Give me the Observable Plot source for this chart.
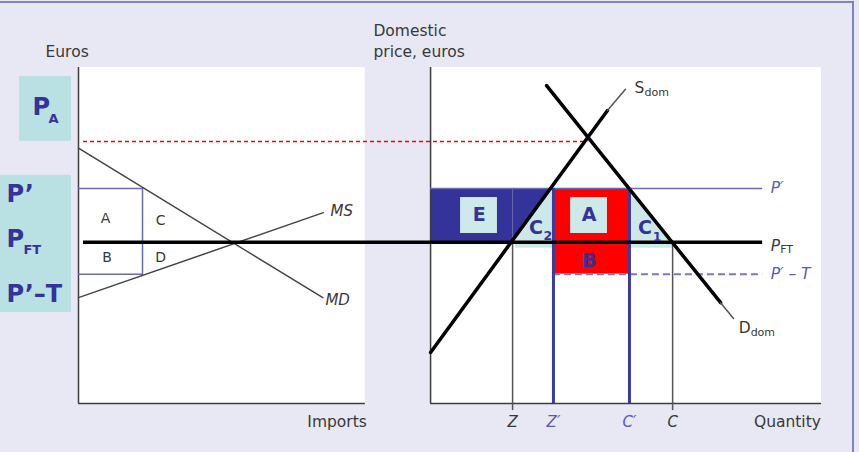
<!DOCTYPE html>
<html><head><meta charset="utf-8">
<script src="https://cdn.jsdelivr.net/npm/d3@7"></script>
<script src="https://cdn.jsdelivr.net/npm/@observablehq/plot@0.6"></script>
<style>
body{margin:0;background:#e8e8f4;}
#wrap{position:relative;width:859px;height:452px;}
#border{position:absolute;top:1px;left:0;width:854px;height:451px;box-sizing:border-box;border-top:2px solid #7b84c4;border-right:2px solid #7b84c4;pointer-events:none;}
</style></head><body><div id="wrap"><div id="border"></div></div>
<script>
// ---------- values (euros / quantities) ----------
const priceNames  = ["P_A", "P'", "P_FT", "P'-T"];
const priceValues = [7.8, 6.4, 4.8, 3.85];
const [PA, P1, PFT, P1T] = priceValues;

// left panel: import demand (MD) and import supply (MS)
const mdImports = [0, 8.55];
const mdPrice   = [7.6, 3.15];
const msImports = [0, 8.57];
const msPrice   = [3.15, 5.68];
const importsAtTariff = 2.24;

// right panel: domestic supply and demand
const sdomQty   = [0, 6.19, 6.82];
const sdomPrice = [1.52, 8.72, 9.35];
const ddomQty   = [4.06, 10.15, 10.6];
const ddomPrice = [9.46, 3.0, 2.53];

// quantity tick labels
const tickNames  = ["Z", "Z′", "C′", "C"];
const tickValues = [2.87, 4.30, 6.96, 8.47];
const [Z, Zp, Cp, C] = tickValues;

// ---------- layout (diagram units) ----------
const RIGHT = 12.32;            // origin of right panel on the shared x scale
const panelW = [10.04, 13.68];  // panel widths
const priceTop = 10;
const lineEnd = 11.62;          // end of the price lines in right panel
const R = q => RIGHT + q;

// supply quantity at P'
const sAtP1 = sdomQty[0] + (P1 - sdomPrice[0]) * (sdomQty[1] - sdomQty[0]) / (sdomPrice[1] - sdomPrice[0]);

const navy = "#333399", teal = "#cce8e8", lineP = "#6b6bb5", ink = "#383838", purpleTxt = "#5b5bb0";
const pts = (xs, ys, off = 0) => xs.map((x, i) => ({x: x + off, y: ys[i]}));

const sans = "'DejaVu Sans', sans-serif";
const bold = "'DejaVu Sans', sans-serif";

const chart = Plot.plot({
  width: 859, height: 452,
  marginLeft: 78, marginRight: 38, marginTop: 67, marginBottom: 49,
  x: {domain: [0, 26], axis: null},
  y: {domain: [0, priceTop], axis: null},
  style: {background: "#e8e8f4", overflow: "visible"},
  marks: [
    // white panels
    Plot.rect([[0, panelW[0]], [RIGHT, RIGHT + panelW[1]]], {x1: d => d[0], x2: d => d[1], y1: () => 0, y2: () => priceTop, fill: "white"}),
    // left price boxes
    Plot.rect([{x1: -2.065, x2: -0.245, y1: PA, y2: 9.73}, {x1: -2.9, x2: -0.245, y1: 2.71, y2: 6.79}],
      {x1: "x1", x2: "x2", y1: "y1", y2: "y2", fill: "#b9e0e3"}),
    // E area (dark blue)
    Plot.areaY([{x: R(0), y1: PFT, y2: P1}, {x: R(Z), y1: PFT, y2: P1}, {x: R(sAtP1), y1: P1, y2: P1}],
      {x: "x", y1: "y1", y2: "y2", fill: navy}),
    // C2 and C1 triangles (teal)
    Plot.areaY([{x: R(Z), y1: PFT, y2: PFT}, {x: R(sAtP1), y1: PFT, y2: P1}, {x: R(Zp), y1: PFT, y2: P1}],
      {x: "x", y1: "y1", y2: "y2", fill: teal}),
    Plot.areaY([{x: R(Cp), y1: PFT, y2: P1}, {x: R(C), y1: PFT, y2: PFT}],
      {x: "x", y1: "y1", y2: "y2", fill: teal}),
    Plot.rect([{x1: R(Z + 0.1), x2: R(Zp)}, {x1: R(Cp), x2: R(C)}],
      {x1: "x1", x2: "x2", y1: () => PFT - 0.18, y2: () => PFT, fill: teal}),
    // red rectangle A+B
    Plot.rect([{x1: R(Zp), x2: R(Cp), y1: P1T, y2: P1}], {x1: "x1", x2: "x2", y1: "y1", y2: "y2", fill: "#ff0000"}),
    // label boxes for E and A
    Plot.rect([{x1: R(1.05), x2: R(2.34)}, {x1: R(4.9), x2: R(6.19)}],
      {x1: "x1", x2: "x2", y1: () => 5.06, y2: () => 6.13, fill: "#cde9e9"}),
    Plot.ruleX([R(Z)], {y1: PFT, y2: P1, stroke: "#6a6ab0", strokeWidth: 1}),

    // axes
    Plot.ruleX([0, RIGHT], {y1: 0, y2: priceTop, stroke: "#3d3d3d", strokeWidth: 1.5}),
    Plot.ruleY([{x1: 0, x2: panelW[0]}, {x1: RIGHT, x2: RIGHT + panelW[1]}], {y: () => 0, x1: "x1", x2: "x2", stroke: "#3d3d3d", strokeWidth: 1.5}),

    // red dashed autarky price
    Plot.ruleY([PA], {x1: 0.175, x2: R(5.5), stroke: "#ff0000", strokeWidth: 1.5, strokeDasharray: "4,3"}),

    // left panel tariff rectangle
    Plot.line([{x: 0, y: P1}, {x: importsAtTariff, y: P1}, {x: importsAtTariff, y: P1T}, {x: 0, y: P1T}],
      {x: "x", y: "y", stroke: lineP, strokeWidth: 1.5}),
    // MD, MS
    Plot.line(pts(mdImports, mdPrice), {x: "x", y: "y", stroke: "#444", strokeWidth: 1.5}),
    Plot.line(pts(msImports, msPrice), {x: "x", y: "y", stroke: "#444", strokeWidth: 1.5}),

    // right panel price lines
    Plot.ruleY([P1], {x1: R(0), x2: R(lineEnd), stroke: lineP, strokeWidth: 1.5}),
    Plot.ruleY([P1T], {x1: R(Zp), x2: R(lineEnd), stroke: "#7a7ac0", strokeWidth: 2, strokeDasharray: "7,4"}),
    // vertical quantity lines
    Plot.ruleX([R(Z), R(C)], {y1: -0.21, y2: PFT, stroke: "#555", strokeWidth: 1.5}),
    Plot.ruleX([R(Zp), R(Cp)], {y1: 0, y2: P1, stroke: "#3b3b9e", strokeWidth: 3}),
    // free-trade price
    Plot.ruleY([PFT], {x1: 0.175, x2: R(lineEnd), stroke: "black", strokeWidth: 3.5}),
    // domestic supply & demand
    Plot.line(pts(sdomQty.slice(0, 2), sdomPrice.slice(0, 2), RIGHT), {x: "x", y: "y", stroke: "black", strokeWidth: 3.5}),
    Plot.line(pts(sdomQty.slice(1), sdomPrice.slice(1), RIGHT), {x: "x", y: "y", stroke: "#555", strokeWidth: 1.5}),
    Plot.line(pts(ddomQty.slice(0, 2), ddomPrice.slice(0, 2), RIGHT), {x: "x", y: "y", stroke: "black", strokeWidth: 3.5}),
    Plot.line(pts(ddomQty.slice(1), ddomPrice.slice(1), RIGHT), {x: "x", y: "y", stroke: "#555", strokeWidth: 1.5}),

    // axis titles
    Plot.text([{x: -1.155, y: 10.446, t: "Euros"}, {x: 10.32, y: 11.1, t: "Domestic"}, {x: 10.32, y: 10.446, t: "price, euros"}],
      {x: "x", y: "y", text: "t", textAnchor: "start", fill: ink, fontSize: 15.5, fontFamily: sans}),
    Plot.text([{x: panelW[0] + 0.05, y: -0.565, t: "Imports"}, {x: RIGHT + panelW[1] - 0.02, y: -0.565, t: "Quantity"}],
      {x: "x", y: "y", text: "t", textAnchor: "end", fill: ink, fontSize: 15.5, fontFamily: sans}),
    // left panel area letters
    Plot.text([{x: 0.95, y: 5.5, t: "A"}, {x: 2.87, y: 5.45, t: "C"}, {x: 1.0, y: 4.35, t: "B"}, {x: 2.87, y: 4.35, t: "D"}],
      {x: "x", y: "y", text: "t", fill: ink, fontSize: 14, fontFamily: sans}),
    // MS / MD
    Plot.text([{x: 8.82, y: 5.71, t: "MS"}, {x: 8.64, y: 3.07, t: "MD"}],
      {x: "x", y: "y", text: "t", textAnchor: "start", fill: ink, fontSize: 15, fontStyle: "italic", fontFamily: sans}),
    // quantity ticks
    Plot.text(tickNames.map((t, i) => ({t, x: R(tickValues[i]), y: -0.565, c: t.includes("′") ? purpleTxt : ink})),
      {x: "x", y: "y", text: "t", fill: "c", fontSize: 15, fontStyle: "italic", fontFamily: sans}),
    // right-hand price line labels
    Plot.text([{y: P1, t: "P′", c: purpleTxt}, {y: P1T, t: "P′ – T", c: purpleTxt}, {y: PFT - 0.1, t: "P", c: ink}],
      {x: () => R(lineEnd), y: "y", text: "t", fill: "c", dx: 8, textAnchor: "start", fontSize: 15.5, fontStyle: "italic", fontFamily: sans}),
    Plot.text([{y: PFT - 0.1, t: "FT"}], {x: () => R(lineEnd), y: "y", text: "t", dx: 17.5, dy: 4, textAnchor: "start", fill: ink, fontSize: 11, fontFamily: sans}),
    // S_dom, D_dom
    Plot.text([{x: R(7.14), y: 9.375, t: "S"}, {x: R(10.78), y: 2.26, t: "D"}],
      {x: "x", y: "y", text: "t", textAnchor: "start", fill: ink, fontSize: 15.5, fontFamily: sans}),
    Plot.text([{x: R(7.14), y: 9.375, t: "dom"}],
      {x: "x", y: "y", text: "t", dx: 10, dy: 4, textAnchor: "start", fill: ink, fontSize: 11, fontFamily: sans}),
    Plot.text([{x: R(10.78), y: 2.26, t: "dom"}],
      {x: "x", y: "y", text: "t", dx: 12, dy: 5, textAnchor: "start", fill: ink, fontSize: 11, fontFamily: sans}),
    // bold region labels
    Plot.text([{x: R(1.70), y: 5.6, t: "E"}, {x: R(5.55), y: 5.6, t: "A"}, {x: R(5.55), y: 4.256, t: "B"},
               {x: R(3.69), y: 5.22, t: "C"}, {x: R(7.5), y: 5.22, t: "C"}],
      {x: "x", y: "y", text: "t", fill: navy, fontSize: 19, fontWeight: "bold", fontFamily: bold}),
    Plot.text([{x: R(4.1), y: 4.99, t: "2"}, {x: R(7.93), y: 4.97, t: "1"}],
      {x: "x", y: "y", text: "t", fill: navy, fontSize: 12.5, fontWeight: "bold", fontFamily: bold}),
    // left price box labels
    Plot.text([{x: -1.61, y: 8.82, t: "P"}, {x: -2.52, y: 6.22, t: "P’"}, {x: -2.52, y: 4.88, t: "P"}, {x: -2.52, y: 3.26, t: "P’–T"}],
      {x: "x", y: "y", text: "t", textAnchor: "start", fill: navy, fontSize: 24, fontWeight: "bold", fontFamily: bold}),
    Plot.text([{x: -1.05, y: 8.48, t: "A"}, {x: -1.925, y: 4.58, t: "FT"}],
      {x: "x", y: "y", text: "t", textAnchor: "start", fill: navy, fontSize: 13, fontWeight: "bold", fontFamily: bold})
  ]
});
document.getElementById("wrap").prepend(chart);
</script></body></html>
